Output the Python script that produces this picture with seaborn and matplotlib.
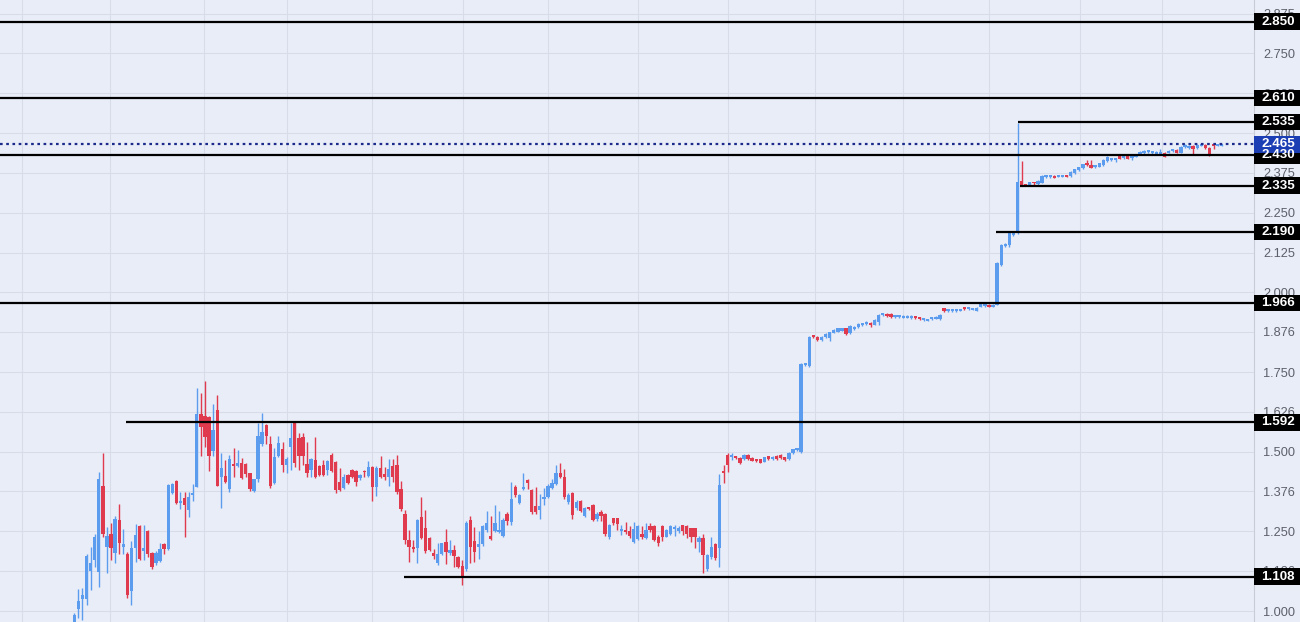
import numpy as np
import pandas as pd
import matplotlib
matplotlib.use("Agg")
import matplotlib.pyplot as plt
import matplotlib.transforms as mtransforms
from matplotlib.patches import Rectangle
import seaborn as sns

# velas diarias (OHLC)
opens = [
    0.940, 1.006, 1.038, 1.039, 1.127, 1.160, 1.123, 1.392, 1.200, 1.242,
    1.181, 1.286, 1.202, 1.179, 1.064, 1.197, 1.267, 1.189, 1.251, 1.181,
    1.152, 1.158, 1.211, 1.194, 1.370, 1.409, 1.338, 1.354, 1.317, 1.364,
    1.390, 1.618, 1.612, 1.608, 1.503, 1.631, 1.421, 1.424, 1.382, 1.461,
    1.455, 1.464, 1.461, 1.432, 1.378, 1.414, 1.525, 1.584, 1.524, 1.401,
    1.487, 1.508, 1.458, 1.516, 1.589, 1.542, 1.547, 1.461, 1.443, 1.474,
    1.455, 1.458, 1.443, 1.490, 1.469, 1.406, 1.385, 1.427, 1.443, 1.440,
    1.417, 1.440, 1.424, 1.451, 1.388, 1.448, 1.430, 1.422, 1.455, 1.458,
    1.382, 1.304, 1.223, 1.202, 1.197, 1.294, 1.260, 1.228, 1.181, 1.150,
    1.179, 1.217, 1.183, 1.191, 1.170, 1.141, 1.131, 1.286, 1.221, 1.202,
    1.210, 1.254, 1.236, 1.251, 1.249, 1.236, 1.305, 1.280, 1.389, 1.340,
    1.383, 1.411, 1.380, 1.330, 1.317, 1.351, 1.359, 1.387, 1.399, 1.433,
    1.420, 1.343, 1.371, 1.322, 1.346, 1.298, 1.326, 1.333, 1.288, 1.312,
    1.305, 1.231, 1.291, 1.291, 1.252, 1.254, 1.252, 1.218, 1.225, 1.242,
    1.228, 1.267, 1.267, 1.233, 1.267, 1.233, 1.242, 1.257, 1.252, 1.269,
    1.267, 1.259, 1.259, 1.217, 1.228, 1.131, 1.168, 1.210, 1.197, 1.437,
    1.490, 1.483, 1.485, 1.480, 1.477, 1.490, 1.480, 1.474, 1.476, 1.469,
    1.485, 1.476, 1.487, 1.490, 1.482, 1.477, 1.495, 1.505, 1.500, 1.772,
    1.769, 1.862, 1.860, 1.851, 1.860, 1.857, 1.874, 1.877, 1.880, 1.887,
    1.872, 1.885, 1.891, 1.897, 1.901, 1.905, 1.899, 1.907, 1.928, 1.932,
    1.932, 1.922, 1.922, 1.921, 1.921, 1.919, 1.922, 1.921, 1.913, 1.911,
    1.915, 1.918, 1.916, 1.950, 1.942, 1.942, 1.942, 1.943, 1.950, 1.947,
    1.946, 1.943, 1.955, 1.956, 1.961, 1.955, 1.961, 2.087, 2.146, 2.149,
    2.180, 2.186, 2.350, 2.338, 2.336, 2.346, 2.339, 2.344, 2.361, 2.363,
    2.365, 2.363, 2.363, 2.366, 2.365, 2.374, 2.384, 2.390, 2.402, 2.400,
    2.393, 2.395, 2.400, 2.412, 2.416, 2.416, 2.431, 2.421, 2.429, 2.421,
    2.426, 2.435, 2.437, 2.440, 2.437, 2.434, 2.436, 2.439, 2.439, 2.444,
    2.447, 2.439, 2.456, 2.453, 2.460, 2.452, 2.460, 2.463, 2.453, 2.464,
    2.460, 2.461,
]
highs = [
    0.995, 1.069, 1.072, 1.179, 1.202, 1.242, 1.437, 1.497, 1.265, 1.275,
    1.297, 1.337, 1.258, 1.186, 1.220, 1.273, 1.270, 1.270, 1.254, 1.186,
    1.189, 1.214, 1.212, 1.398, 1.401, 1.411, 1.372, 1.372, 1.372, 1.398,
    1.699, 1.684, 1.721, 1.612, 1.650, 1.678, 1.497, 1.475, 1.490, 1.512,
    1.505, 1.480, 1.463, 1.434, 1.415, 1.589, 1.620, 1.586, 1.549, 1.511,
    1.549, 1.530, 1.482, 1.589, 1.592, 1.558, 1.558, 1.530, 1.480, 1.545,
    1.458, 1.474, 1.474, 1.496, 1.472, 1.448, 1.430, 1.429, 1.447, 1.443,
    1.431, 1.443, 1.472, 1.454, 1.454, 1.485, 1.451, 1.477, 1.477, 1.490,
    1.408, 1.317, 1.255, 1.223, 1.289, 1.359, 1.316, 1.231, 1.195, 1.212,
    1.214, 1.258, 1.223, 1.206, 1.172, 1.160, 1.283, 1.299, 1.263, 1.251,
    1.270, 1.314, 1.299, 1.333, 1.314, 1.292, 1.310, 1.405, 1.397, 1.367,
    1.433, 1.413, 1.382, 1.389, 1.367, 1.386, 1.400, 1.414, 1.458, 1.464,
    1.445, 1.370, 1.373, 1.349, 1.348, 1.327, 1.328, 1.337, 1.310, 1.316,
    1.307, 1.273, 1.293, 1.293, 1.270, 1.279, 1.266, 1.279, 1.270, 1.266,
    1.276, 1.276, 1.269, 1.240, 1.270, 1.256, 1.270, 1.270, 1.267, 1.271,
    1.269, 1.261, 1.261, 1.236, 1.242, 1.178, 1.233, 1.212, 1.430, 1.458,
    1.497, 1.497, 1.487, 1.482, 1.494, 1.492, 1.482, 1.476, 1.478, 1.484,
    1.487, 1.488, 1.489, 1.492, 1.484, 1.499, 1.510, 1.510, 1.777, 1.779,
    1.862, 1.864, 1.862, 1.862, 1.872, 1.877, 1.884, 1.889, 1.889, 1.889,
    1.897, 1.893, 1.904, 1.905, 1.909, 1.907, 1.915, 1.932, 1.934, 1.934,
    1.934, 1.928, 1.928, 1.928, 1.928, 1.928, 1.924, 1.923, 1.921, 1.918,
    1.924, 1.926, 1.932, 1.952, 1.947, 1.947, 1.949, 1.949, 1.952, 1.955,
    1.951, 1.953, 1.965, 1.965, 1.963, 1.963, 2.094, 2.151, 2.155, 2.188,
    2.190, 2.533, 2.414, 2.340, 2.348, 2.348, 2.352, 2.367, 2.368, 2.370,
    2.367, 2.369, 2.369, 2.368, 2.380, 2.388, 2.395, 2.404, 2.416, 2.416,
    2.399, 2.407, 2.418, 2.427, 2.420, 2.423, 2.433, 2.430, 2.431, 2.428,
    2.435, 2.444, 2.447, 2.446, 2.444, 2.444, 2.449, 2.441, 2.447, 2.449,
    2.449, 2.458, 2.465, 2.462, 2.462, 2.465, 2.466, 2.465, 2.455, 2.466,
    2.466, 2.467,
]
lows = [
    0.930, 0.977, 0.972, 1.020, 1.066, 1.139, 1.076, 1.233, 1.118, 1.161,
    1.150, 1.178, 1.180, 1.040, 1.020, 1.154, 1.160, 1.160, 1.170, 1.133,
    1.145, 1.154, 1.180, 1.192, 1.367, 1.337, 1.321, 1.233, 1.296, 1.346,
    1.388, 1.485, 1.516, 1.441, 1.488, 1.392, 1.322, 1.402, 1.375, 1.421,
    1.451, 1.414, 1.420, 1.376, 1.374, 1.405, 1.518, 1.525, 1.386, 1.398,
    1.484, 1.437, 1.432, 1.442, 1.453, 1.442, 1.457, 1.422, 1.420, 1.418,
    1.424, 1.424, 1.427, 1.436, 1.370, 1.377, 1.382, 1.400, 1.417, 1.392,
    1.411, 1.421, 1.421, 1.346, 1.362, 1.417, 1.411, 1.391, 1.404, 1.368,
    1.313, 1.210, 1.153, 1.186, 1.150, 1.226, 1.183, 1.187, 1.163, 1.145,
    1.176, 1.148, 1.176, 1.138, 1.136, 1.082, 1.125, 1.152, 1.153, 1.164,
    1.205, 1.248, 1.223, 1.248, 1.245, 1.233, 1.270, 1.270, 1.358, 1.336,
    1.380, 1.383, 1.306, 1.306, 1.290, 1.333, 1.354, 1.383, 1.395, 1.417,
    1.351, 1.336, 1.289, 1.317, 1.311, 1.295, 1.317, 1.283, 1.281, 1.283,
    1.236, 1.226, 1.270, 1.253, 1.239, 1.242, 1.229, 1.214, 1.223, 1.226,
    1.225, 1.249, 1.220, 1.205, 1.220, 1.232, 1.239, 1.236, 1.245, 1.240,
    1.229, 1.217, 1.198, 1.186, 1.120, 1.126, 1.163, 1.161, 1.139, 1.401,
    1.437, 1.474, 1.478, 1.461, 1.475, 1.475, 1.470, 1.469, 1.464, 1.467,
    1.475, 1.473, 1.475, 1.478, 1.472, 1.475, 1.493, 1.503, 1.497, 1.770,
    1.765, 1.858, 1.849, 1.849, 1.858, 1.847, 1.872, 1.875, 1.878, 1.866,
    1.870, 1.883, 1.889, 1.895, 1.899, 1.892, 1.897, 1.899, 1.926, 1.924,
    1.920, 1.920, 1.920, 1.919, 1.919, 1.917, 1.918, 1.914, 1.911, 1.909,
    1.913, 1.916, 1.914, 1.940, 1.940, 1.940, 1.940, 1.941, 1.945, 1.945,
    1.944, 1.941, 1.953, 1.954, 1.953, 1.953, 1.959, 2.084, 2.144, 2.142,
    2.178, 2.184, 2.333, 2.333, 2.334, 2.335, 2.337, 2.342, 2.359, 2.358,
    2.358, 2.361, 2.361, 2.361, 2.363, 2.372, 2.382, 2.388, 2.397, 2.389,
    2.391, 2.393, 2.398, 2.410, 2.414, 2.410, 2.418, 2.419, 2.418, 2.416,
    2.424, 2.433, 2.435, 2.438, 2.435, 2.432, 2.434, 2.424, 2.437, 2.442,
    2.437, 2.437, 2.454, 2.451, 2.435, 2.450, 2.458, 2.450, 2.428, 2.451,
    2.458, 2.459,
]
closes = [
    0.987, 1.030, 1.050, 1.173, 1.152, 1.233, 1.415, 1.242, 1.236, 1.197,
    1.289, 1.214, 1.210, 1.050, 1.197, 1.239, 1.163, 1.199, 1.179, 1.139,
    1.183, 1.194, 1.194, 1.395, 1.398, 1.340, 1.342, 1.333, 1.359, 1.367,
    1.618, 1.578, 1.547, 1.487, 1.568, 1.392, 1.448, 1.406, 1.476, 1.455,
    1.466, 1.417, 1.430, 1.382, 1.413, 1.549, 1.561, 1.549, 1.392, 1.482,
    1.528, 1.458, 1.476, 1.542, 1.466, 1.487, 1.485, 1.432, 1.476, 1.422,
    1.427, 1.427, 1.471, 1.441, 1.380, 1.380, 1.420, 1.403, 1.420, 1.406,
    1.427, 1.435, 1.451, 1.388, 1.448, 1.420, 1.422, 1.446, 1.422, 1.374,
    1.319, 1.223, 1.202, 1.194, 1.286, 1.228, 1.189, 1.191, 1.173, 1.179,
    1.212, 1.186, 1.191, 1.173, 1.139, 1.104, 1.277, 1.200, 1.186, 1.210,
    1.267, 1.277, 1.226, 1.277, 1.253, 1.286, 1.284, 1.351, 1.364, 1.364,
    1.390, 1.403, 1.312, 1.312, 1.330, 1.359, 1.392, 1.403, 1.433, 1.420,
    1.357, 1.364, 1.301, 1.343, 1.315, 1.322, 1.319, 1.286, 1.305, 1.298,
    1.242, 1.270, 1.275, 1.273, 1.256, 1.249, 1.236, 1.256, 1.267, 1.231,
    1.254, 1.253, 1.224, 1.214, 1.231, 1.254, 1.267, 1.261, 1.262, 1.252,
    1.242, 1.231, 1.231, 1.228, 1.176, 1.176, 1.202, 1.165, 1.396, 1.432,
    1.458, 1.487, 1.480, 1.466, 1.490, 1.477, 1.472, 1.470, 1.466, 1.482,
    1.477, 1.480, 1.477, 1.480, 1.474, 1.497, 1.508, 1.508, 1.775, 1.777,
    1.860, 1.859, 1.851, 1.860, 1.869, 1.875, 1.882, 1.887, 1.887, 1.869,
    1.895, 1.891, 1.902, 1.903, 1.907, 1.897, 1.913, 1.930, 1.932, 1.926,
    1.922, 1.926, 1.926, 1.926, 1.926, 1.926, 1.920, 1.918, 1.919, 1.916,
    1.922, 1.924, 1.930, 1.942, 1.945, 1.945, 1.947, 1.947, 1.947, 1.950,
    1.949, 1.951, 1.963, 1.963, 1.955, 1.961, 2.092, 2.149, 2.152, 2.186,
    2.188, 2.348, 2.335, 2.335, 2.346, 2.342, 2.350, 2.365, 2.366, 2.368,
    2.360, 2.367, 2.367, 2.363, 2.378, 2.386, 2.393, 2.402, 2.399, 2.391,
    2.397, 2.405, 2.416, 2.425, 2.418, 2.421, 2.420, 2.428, 2.420, 2.426,
    2.433, 2.442, 2.442, 2.444, 2.442, 2.442, 2.441, 2.426, 2.445, 2.447,
    2.439, 2.456, 2.463, 2.460, 2.450, 2.463, 2.464, 2.452, 2.430, 2.460,
    2.464, 2.465,
]

# niveis de suporte/resistencia (inicio em numero da vela, None = largura toda)
levels = [2.850, 2.610, 2.535, 2.430, 2.335, 2.190, 1.966, 1.592, 1.108]
level_starts = [None, None, 231, None, 231.6, 225.7, None, 12.7, 80.7]
last_price = 2.465

tick_values = [1.000, 1.126, 1.250, 1.376, 1.500, 1.626, 1.750, 1.876,
               2.000, 2.125, 2.250, 2.375, 2.500, 2.625, 2.750, 2.875]
tick_labels = [f"{v:.3f}" for v in tick_values]
# linhas verticais do grid (inicio de cada mes, em numero da vela)
month_lines = [-12.8, 8.7, 31.8, 52.0, 72.9, 95.2, 116.0, 138.0, 160.1,
               181.3, 202.9, 224.0, 246.3, 266.3]

df = pd.DataFrame({"open": opens, "high": highs, "low": lows, "close": closes})
df["bar"] = np.arange(len(df))
df["up"] = df["close"] >= df["open"]

bg = "#e9edf7"
cor_alta = "#5b9cef"
cor_baixa = "#e03a4e"

sns.set_theme(style="whitegrid", rc={
    "axes.facecolor": bg, "figure.facecolor": bg,
    "grid.color": "#d8dce9", "grid.linewidth": 0.8,
})
plt.rcParams["font.family"] = ["Liberation Sans", "DejaVu Sans"]

fig, ax = plt.subplots(figsize=(13, 6.22), dpi=100)
fig.subplots_adjust(left=0, right=1254 / 1300, bottom=0, top=1)

x_min, x_max = -18.2, 288.9
y_min, y_max = 0.9655, 2.9178

# pavios e corpos das velas
cores = np.where(df["up"], cor_alta, cor_baixa)
ax.vlines(df["bar"], df["low"], df["high"], colors=cores, linewidth=1.0, zorder=2)
corpo = (df["close"] - df["open"]).abs().clip(lower=0.006)
base = df[["open", "close"]].min(axis=1)
ax.bar(df["bar"], corpo, bottom=base, width=0.82, color=cores, linewidth=0, zorder=3)

# niveis horizontais
for nivel, inicio in zip(levels, level_starts):
    ax.hlines(nivel, x_min if inicio is None else inicio, x_max,
              color="black", linewidth=1.6, zorder=4)
ax.axhline(last_price, color="#1b2a8c", linewidth=1.6,
           linestyle=(0, (1.2, 1.6)), zorder=4)

ax.set_xlim(x_min, x_max)
ax.set_ylim(y_min, y_max)
ax.set_xticks(month_lines)
ax.tick_params(axis="x", length=0, labelbottom=False)
ax.yaxis.tick_right()
ax.set_yticks(tick_values)
ax.set_yticklabels(tick_labels)
ax.tick_params(axis="y", length=0, pad=6.5, labelsize=9.2, labelcolor="#5d606b")
ax.grid(True)
for lado in ["top", "left", "bottom"]:
    ax.spines[lado].set_visible(False)
ax.spines["right"].set_color("#c9ccd6")
ax.spines["right"].set_linewidth(0.8)

# etiquetas de preco na escala
trans = mtransforms.blended_transform_factory(fig.transFigure, ax.transData)
altura = 16.5 / 318.6
etiquetas = [(v, "black") for v in levels] + [(last_price, "#1c3eb4")]
for valor, cor in etiquetas:
    ax.add_patch(Rectangle((1254 / 1300, valor - altura / 2), 46 / 1300, altura,
                           transform=trans, facecolor=cor, edgecolor="none",
                           clip_on=False, zorder=10))
    ax.text(1278 / 1300, valor, f"{valor:.3f}", transform=trans, color="white",
            fontsize=9.6, fontweight="bold", ha="center", va="center",
            clip_on=False, zorder=11)

ax.set_xlim(x_min, x_max)
ax.set_ylim(y_min, y_max)

fig.savefig("out.png", dpi=100, facecolor=bg)
